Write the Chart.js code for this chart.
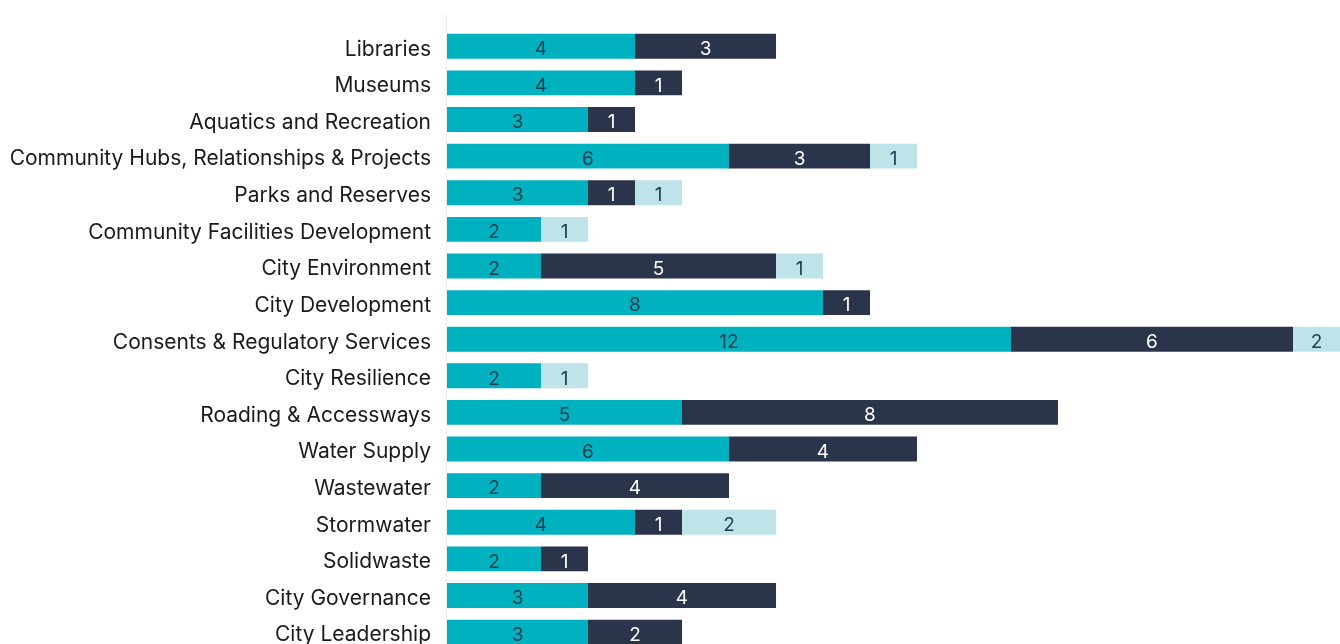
<!DOCTYPE html>
<html>
<head>
<meta charset="utf-8">
<script src="https://cdn.jsdelivr.net/npm/chart.js@4/dist/chart.umd.min.js"></script>
<style>
  html, body { margin: 0; padding: 0; background: #fff; overflow: hidden; }
  canvas { display: block; }
</style>
</head>
<body>
<canvas id="serviceChart" width="1340" height="671"></canvas>
<script>
const categories = [
  'Libraries', 'Museums', 'Aquatics and Recreation',
  'Community Hubs, Relationships & Projects', 'Parks and Reserves',
  'Community Facilities Development', 'City Environment', 'City Development',
  'Consents & Regulatory Services', 'City Resilience', 'Roading & Accessways',
  'Water Supply', 'Wastewater', 'Stormwater', 'Solidwaste',
  'City Governance', 'City Leadership'
];

// null = segment not shown for that activity
const tealValues  = [4, 4, 3, 6, 3, 2, 2, 8, 12, 2, 5, 6, 2, 4, 2, 3, 3];
const navyValues  = [3, 1, 1, 3, 1, null, 5, 1, 6, null, 8, 4, 4, 1, 1, 4, 2];
const lightValues = [null, null, null, 1, 1, 1, 1, null, 2, 1, null, null, null, 2, null, null, null];

const FONT = 'Inter, "Noto Sans", sans-serif';

// numbers in the middle of each segment
const segmentLabels = {
  id: 'segmentLabels',
  afterDatasetsDraw(chart) {
    const { ctx, chartArea } = chart;
    ctx.save();
    ctx.font = '19px ' + FONT;
    ctx.textAlign = 'center';
    ctx.textBaseline = 'middle';
    chart.data.datasets.forEach((ds, i) => {
      chart.getDatasetMeta(i).data.forEach((bar, j) => {
        const v = ds.data[j];
        if (v == null) return;
        const left = Math.min(bar.base, bar.x);
        const right = Math.min(Math.max(bar.base, bar.x), chartArea.right);
        ctx.fillStyle = ds.labelColor;
        ctx.fillText(String(v), (left + right) / 2, bar.y + 3);
      });
    });
    ctx.restore();
  }
};

// thin line along the left edge of the plot
const leftRule = {
  id: 'leftRule',
  beforeDatasetsDraw(chart) {
    const { ctx, chartArea } = chart;
    ctx.save();
    ctx.strokeStyle = '#ececec';
    ctx.lineWidth = 1;
    ctx.beginPath();
    ctx.moveTo(chartArea.left - 0.5, 14);
    ctx.lineTo(chartArea.left - 0.5, chartArea.bottom);
    ctx.stroke();
    ctx.restore();
  }
};

new Chart(document.getElementById('serviceChart'), {
  type: 'bar',
  data: {
    labels: categories,
    datasets: [
      { label: 'A', data: tealValues,  backgroundColor: '#00b1bf', labelColor: '#1b4150' },
      { label: 'B', data: navyValues,  backgroundColor: '#2a344b', labelColor: '#ffffff' },
      { label: 'C', data: lightValues, backgroundColor: '#bee3e8', labelColor: '#1b4150' }
    ]
  },
  options: {
    indexAxis: 'y',
    responsive: false,
    animation: false,
    layout: { padding: { top: 28, right: 0, bottom: 0, left: 0 } },
    datasets: { bar: { barPercentage: 0.68, categoryPercentage: 1.0 } },
    scales: {
      x: { stacked: true, display: false, min: 0, max: 19 },
      y: {
        stacked: true,
        grid: { display: false },
        border: { display: false },
        ticks: {
          color: '#1a1a1a',
          padding: 8,
          labelOffset: 3,
          autoSkip: false,
          font: { family: FONT, size: 21 }
        },
        afterFit(scale) { scale.width = 447; }
      }
    },
    plugins: {
      legend: { display: false },
      tooltip: { enabled: false }
    }
  },
  plugins: [leftRule, segmentLabels]
});
</script>
</body>
</html>
